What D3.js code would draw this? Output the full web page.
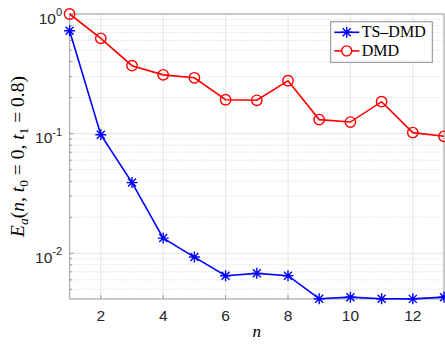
<!DOCTYPE html>
<html>
<head>
<meta charset="utf-8">
<script src="https://cdn.jsdelivr.net/npm/d3@7"></script>
<style>
  body { margin: 0; background: #fff; }
  svg { display: block; }
</style>
</head>
<body>
<div id="chart-area"></div>
<script>
// data
var nValues = [1, 2, 3, 4, 5, 6, 7, 8, 9, 10, 11, 12, 13];
var tsdmd = [0.725, 0.098, 0.039, 0.0134, 0.0093, 0.0065, 0.0068, 0.0065, 0.00417, 0.0043, 0.00417, 0.00416, 0.0043];
var dmd = [1.0, 0.626, 0.37, 0.31, 0.293, 0.192, 0.19, 0.277, 0.131, 0.125, 0.185, 0.102, 0.095];
var xTicks = [2, 4, 6, 8, 10, 12];
var yDecades = [-2, -1, 0];
var seriesNames = ["TS\u2013DMD", "DMD"];

var sans = "'Liberation Sans', Arial, sans-serif";
var serif = "'Liberation Serif', 'Times New Roman', serif";

var W = 445, H = 347;
var margin = {left: 69.6, top: 14, right: 1, bottom: 48};
var width = W - margin.left - margin.right;
var height = H - margin.top - margin.bottom;

var svg = d3.select("#chart-area").append("svg")
    .attr("width", W)
    .attr("height", H);

var g = svg.append("g")
    .attr("transform", "translate(" + margin.left + "," + margin.top + ")");

var xScale = d3.scaleLinear().domain([1, 13]).range([0, width]);
var yScale = d3.scaleLog().domain([0.00415, 1]).range([height, 0]);

// minor grid (dotted)
var minorVals = [];
[-3, -2, -1].forEach(function(e) {
    for (var k = 2; k <= 9; k++) {
        var v = k * Math.pow(10, e);
        if (v > yScale.domain()[0] && v < 1) minorVals.push(v);
    }
});
g.selectAll(".minor").data(minorVals).enter().append("line")
    .attr("x1", 0).attr("x2", width)
    .attr("y1", function(d) { return yScale(d); })
    .attr("y2", function(d) { return yScale(d); })
    .style("stroke", "#d8d8d8")
    .style("stroke-width", 0.8)
    .style("stroke-dasharray", "1.5,1.5");

// major grid
g.selectAll(".vgrid").data(xTicks).enter().append("line")
    .attr("x1", function(d) { return xScale(d); })
    .attr("x2", function(d) { return xScale(d); })
    .attr("y1", 0).attr("y2", height)
    .style("stroke", "#e4e4e4")
    .style("stroke-width", 1);
g.selectAll(".hgrid").data(yDecades).enter().append("line")
    .attr("x1", 0).attr("x2", width)
    .attr("y1", function(d) { return yScale(Math.pow(10, d)); })
    .attr("y2", function(d) { return yScale(Math.pow(10, d)); })
    .style("stroke", "#e4e4e4")
    .style("stroke-width", 1);

// frame
g.append("rect")
    .attr("x", 0).attr("y", 0)
    .attr("width", width).attr("height", height)
    .style("fill", "none")
    .style("stroke", "#b0b0b0")
    .style("stroke-width", 1.3);

// inward ticks
g.selectAll(".xt").data(xTicks).enter().append("line")
    .attr("x1", function(d) { return xScale(d); })
    .attr("x2", function(d) { return xScale(d); })
    .attr("y1", height).attr("y2", height - 4)
    .style("stroke", "#9a9a9a");
g.selectAll(".yt").data(minorVals.concat(yDecades.map(function(e) { return Math.pow(10, e); }))).enter().append("line")
    .attr("x1", 0).attr("x2", function(d) { return minorVals.indexOf(d) >= 0 ? 2.5 : 4; })
    .attr("y1", function(d) { return yScale(d); })
    .attr("y2", function(d) { return yScale(d); })
    .style("stroke", "#9a9a9a");

// tick labels
g.selectAll(".xl").data(xTicks).enter().append("text")
    .attr("x", function(d) { return xScale(d); })
    .attr("y", height + 22)
    .attr("text-anchor", "middle")
    .style("font-family", sans)
    .style("font-size", "15.5px")
    .style("fill", "#262626")
    .text(function(d) { return d; });

var yl = g.selectAll(".yl").data(yDecades).enter().append("text")
    .attr("x", -7.5)
    .attr("y", function(d) { return yScale(Math.pow(10, d)) + 9.5; })
    .attr("text-anchor", "end")
    .style("font-family", sans)
    .style("font-size", "15.5px")
    .style("fill", "#262626");
yl.append("tspan").text("10");
yl.append("tspan").attr("dy", -7.5).style("font-size", "11px").text(function(d) { return d; });

// lines
var line = d3.line()
    .x(function(d, i) { return xScale(nValues[i]); })
    .y(function(d) { return yScale(d); });

var marks = g.append("g");

marks.append("path").datum(dmd)
    .attr("d", line)
    .style("fill", "none").style("stroke", "#ff0000").style("stroke-width", 1.6);
marks.append("path").datum(tsdmd)
    .attr("d", line)
    .style("fill", "none").style("stroke", "#0000ff").style("stroke-width", 1.6);

marks.selectAll(".circ").data(dmd).enter().append("circle")
    .attr("cx", function(d, i) { return xScale(nValues[i]); })
    .attr("cy", function(d) { return yScale(d); })
    .attr("r", 5.2)
    .style("fill", "none").style("stroke", "#ff0000").style("stroke-width", 1.4);

var star = "M-5.5,0L5.5,0M0,-5.5L0,5.5M-4,-4L4,4M-4,4L4,-4";
marks.selectAll(".star").data(tsdmd).enter().append("path")
    .attr("transform", function(d, i) { return "translate(" + xScale(nValues[i]) + "," + yScale(d) + ")"; })
    .attr("d", star)
    .style("fill", "none").style("stroke", "#0000ff").style("stroke-width", 1.4);

// legend
var leg = svg.append("g").attr("transform", "translate(330.7,21.7)");
leg.append("rect")
    .attr("width", 101.6).attr("height", 40.6)
    .style("fill", "#fff").style("stroke", "#8a8a8a").style("stroke-width", 1);
var rows = [{name: seriesNames[0], color: "#0000ff", y: 10.6}, {name: seriesNames[1], color: "#ff0000", y: 29.2}];
rows.forEach(function(r, i) {
    leg.append("line")
        .attr("x1", 3.6).attr("x2", 28.6).attr("y1", r.y).attr("y2", r.y)
        .style("stroke", r.color).style("stroke-width", 1.6);
    if (i === 0) {
        leg.append("path").attr("transform", "translate(16," + r.y + ")").attr("d", star)
            .style("fill", "none").style("stroke", r.color).style("stroke-width", 1.4);
    } else {
        leg.append("circle").attr("cx", 16).attr("cy", r.y).attr("r", 5)
            .style("fill", "#fff").style("stroke", r.color).style("stroke-width", 1.4);
    }
    leg.append("text")
        .attr("x", 31).attr("y", r.y + 5.2)
        .style("font-family", serif)
        .style("font-size", "16px")
        .style("fill", "#000")
        .text(r.name);
});

// axis labels
svg.append("text")
    .attr("x", 256.7)
    .attr("y", 337)
    .attr("text-anchor", "middle")
    .style("font-family", serif)
    .style("font-style", "italic")
    .style("font-size", "17px")
    .text("n");

var ylab = svg.append("text")
    .attr("transform", "translate(23.5," + (margin.top + height / 2) + ") rotate(-90)")
    .attr("text-anchor", "middle")
    .style("font-family", serif)
    .style("font-size", "19.5px")
    .style("fill", "#000");
ylab.append("tspan").style("font-style", "italic").text("E");
ylab.append("tspan").style("font-style", "italic").style("font-size", "13.5px").attr("dy", 4).text("a");
ylab.append("tspan").attr("dy", -4).text("(");
ylab.append("tspan").style("font-style", "italic").text("n");
ylab.append("tspan").text(", ");
ylab.append("tspan").style("font-style", "italic").text("t");
ylab.append("tspan").style("font-size", "13.5px").attr("dy", 4).text("0");
ylab.append("tspan").attr("dy", -4).text(" = 0, ");
ylab.append("tspan").style("font-style", "italic").text("t");
ylab.append("tspan").style("font-size", "13.5px").attr("dy", 4).text("1");
ylab.append("tspan").attr("dy", -4).text(" = 0.8)");
</script>
</body>
</html>
